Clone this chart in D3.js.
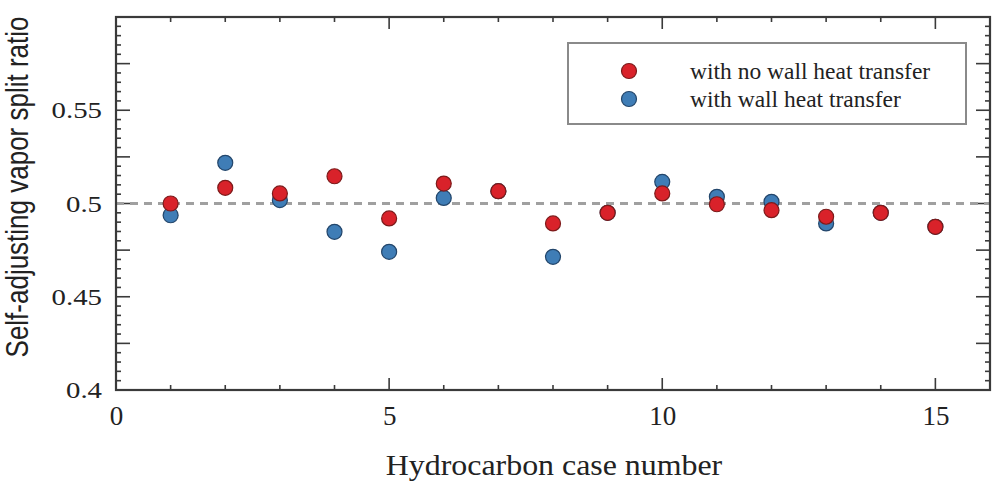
<!DOCTYPE html>
<html>
<head>
<meta charset="utf-8">
<script src="https://cdn.jsdelivr.net/npm/d3@7"></script>
<style>
  body { margin: 0; background: #fff; }
  svg { display: block; }
  .tick text { font-family: "Liberation Serif", serif; fill: #222; }
</style>
</head>
<body>
<svg></svg>
<script>
(() => {
    const width = 998;
    const height = 483;

    // hydrocarbon case numbers 1..15
    const cases = [1, 2, 3, 4, 5, 6, 7, 8, 9, 10, 11, 12, 13, 14, 15];
    const noWall = [0.500, 0.5084, 0.5054, 0.5146, 0.4920, 0.5107, 0.5066, 0.4893, 0.4950, 0.5054, 0.4996, 0.4964, 0.4929, 0.4950, 0.4875];
    const withWall = [0.4937, 0.5218, 0.5018, 0.4848, 0.4741, 0.5030, 0.5066, 0.4714, 0.4950, 0.5116, 0.5036, 0.5009, 0.4893, 0.4950, 0.4875];
    const xTicks = [0, 5, 10, 15];
    const yTicks = [0.4, 0.45, 0.5, 0.55];
    const seriesNames = ["with no wall heat transfer", "with wall heat transfer"];

    const left = 116, right = 990, top = 17, bottom = 390;

    const svg = d3.select("svg")
        .attr("width", width)
        .attr("height", height);

    const x = d3.scaleLinear().domain([0, 16]).range([left, right]);
    const y = d3.scaleLinear().domain([0.4, 0.6]).range([bottom, top]);

    const axisColor = "#3a3a3a";

    // minor + major ticks on all four sides
    const minorX = d3.range(1, 16);
    const minorY = d3.range(0.405, 0.6, 0.005);
    const majorY = d3.range(0.425, 0.6, 0.025);

    const tickG = svg.append("g").attr("stroke", axisColor).attr("stroke-width", 1.6);
    minorX.forEach(v => {
        const len = v % 5 === 0 ? 12 : 5;
        tickG.append("line").attr("x1", x(v)).attr("x2", x(v)).attr("y1", bottom).attr("y2", bottom - len);
        tickG.append("line").attr("x1", x(v)).attr("x2", x(v)).attr("y1", top).attr("y2", top + len);
    });
    minorY.forEach(v => {
        const isMajor = majorY.some(m => Math.abs(m - v) < 1e-6);
        const len = isMajor ? 14 : 5;
        tickG.append("line").attr("x1", left).attr("x2", left + len).attr("y1", y(v)).attr("y2", y(v));
        tickG.append("line").attr("x1", right).attr("x2", right - len).attr("y1", y(v)).attr("y2", y(v));
    });

    // dashed reference line at 0.5
    svg.append("line")
        .attr("x1", left).attr("x2", right)
        .attr("y1", y(0.5)).attr("y2", y(0.5))
        .attr("stroke", "#a0a0a0")
        .attr("stroke-width", 3)
        .attr("stroke-dasharray", "8,6");

    // frame
    svg.append("rect")
        .attr("x", left).attr("y", top)
        .attr("width", right - left).attr("height", bottom - top)
        .attr("fill", "none")
        .attr("stroke", axisColor)
        .attr("stroke-width", 2.2);

    // axis labels via d3 axes (tick lines hidden, drawn above)
    const xAxis = svg.append("g")
        .attr("transform", `translate(0,${bottom})`)
        .call(d3.axisBottom(x).tickValues(xTicks).tickSize(0).tickPadding(16).tickFormat(d3.format("d")));
    xAxis.select(".domain").remove();
    xAxis.selectAll("text").attr("font-size", 27).attr("dy", "0.71em");

    const yAxis = svg.append("g")
        .attr("transform", `translate(${left},0)`)
        .call(d3.axisLeft(y).tickValues(yTicks).tickSize(0).tickPadding(14).tickFormat(d => String(+d.toFixed(2))));
    yAxis.select(".domain").remove();
    yAxis.selectAll("text")
        .attr("font-size", 24)
        .attr("x", 0)
        .attr("transform", "translate(-14,0) scale(1.2,1)");

    // points
    const blueFill = "#3f7db6", blueStroke = "#23466b";
    const redFill = "#d9222a", redStroke = "#7c1a1a";

    svg.append("g").selectAll("circle")
        .data(cases.map((c, i) => ({ c, v: withWall[i] })))
        .enter().append("circle")
        .attr("cx", d => x(d.c)).attr("cy", d => y(d.v)).attr("r", 7.5)
        .attr("fill", blueFill).attr("stroke", blueStroke).attr("stroke-width", 1.2);

    svg.append("g").selectAll("circle")
        .data(cases.map((c, i) => ({ c, v: noWall[i] })))
        .enter().append("circle")
        .attr("cx", d => x(d.c)).attr("cy", d => y(d.v)).attr("r", 7.5)
        .attr("fill", redFill).attr("stroke", redStroke).attr("stroke-width", 1.2);

    // legend
    const legend = svg.append("g");
    legend.append("rect")
        .attr("x", 568).attr("y", 43).attr("width", 398).attr("height", 81)
        .attr("fill", "#fff").attr("stroke", "#8a8a8a").attr("stroke-width", 2);
    [[redFill, redStroke], [blueFill, blueStroke]].forEach((c, i) => {
        const cy = 71 + i * 28;
        legend.append("circle").attr("cx", 629).attr("cy", cy).attr("r", 7.5)
            .attr("fill", c[0]).attr("stroke", c[1]).attr("stroke-width", 1.2);
        legend.append("text").attr("x", 690).attr("y", cy + 8)
            .attr("font-family", "Liberation Serif, serif")
            .attr("font-size", 23.5).attr("fill", "#222")
            .text(seriesNames[i]);
    });

    // axis titles
    svg.append("text")
        .attr("text-anchor", "middle")
        .attr("transform", "translate(554,475) scale(1.1,1)")
        .attr("font-family", "Liberation Serif, serif")
        .attr("font-size", 29).attr("fill", "#222")
        .text("Hydrocarbon case number");

    svg.append("text")
        .attr("text-anchor", "middle")
        .attr("transform", "translate(28,187) scale(1.2,1) rotate(-90)")
        .attr("font-family", "Liberation Sans, Arial, sans-serif")
        .attr("font-size", 26).attr("fill", "#222")
        .text("Self-adjusting vapor split ratio");
})();
</script>
</body>
</html>
